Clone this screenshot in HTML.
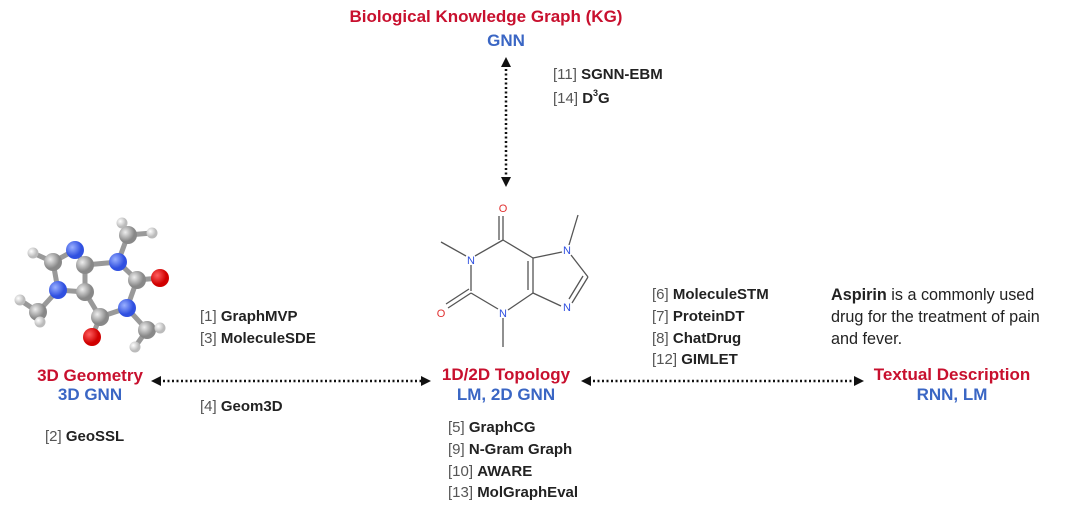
<!DOCTYPE html>
<html><head><meta charset="utf-8"><style>
html,body{margin:0;padding:0;background:#fff;}
svg{display:block;font-family:"Liberation Sans",Arial,sans-serif;}
.t{font-weight:bold;font-size:17px;fill:#c8102e;}
.b{font-weight:bold;font-size:17px;fill:#3a66c4;}
.l{font-size:15px;fill:#222;}
.l tspan.n{fill:#555;font-weight:normal;}
.l tspan.k{font-weight:bold;}
.a{font-size:16.2px;fill:#222;}
</style></head><body>
<svg width="1080" height="509" viewBox="0 0 1080 509" xmlns="http://www.w3.org/2000/svg">
<defs>
<marker id="ah" markerWidth="10" markerHeight="10" refX="7" refY="5" orient="auto-start-reverse" markerUnits="userSpaceOnUse"><path d="M0,0 L10,5 L0,10 Z" fill="#111"/></marker>
<radialGradient id="gC" cx="35%" cy="35%"><stop offset="0" stop-color="#eee"/><stop offset="1" stop-color="#888"/></radialGradient>
<radialGradient id="gN" cx="35%" cy="35%"><stop offset="0" stop-color="#9ab0ff"/><stop offset="1" stop-color="#3050e0"/></radialGradient>
<radialGradient id="gO" cx="35%" cy="35%"><stop offset="0" stop-color="#ff6060"/><stop offset="1" stop-color="#d00000"/></radialGradient>
<radialGradient id="gH" cx="35%" cy="35%"><stop offset="0" stop-color="#fff"/><stop offset="1" stop-color="#bbb"/></radialGradient>
</defs>

<text class="t" x="486" y="22" text-anchor="middle">Biological Knowledge Graph (KG)</text>
<text class="b" x="506" y="46" text-anchor="middle">GNN</text>
<line x1="506" y1="60" x2="506" y2="184" stroke="#111" stroke-width="2.5" stroke-dasharray="2 2.5" marker-start="url(#ah)" marker-end="url(#ah)"/>
<text class="l" x="553" y="79"><tspan class="n">[11] </tspan><tspan class="k">SGNN-EBM</tspan></text>
<text class="l" x="553" y="103"><tspan class="n">[14] </tspan><tspan class="k">D</tspan><tspan class="k" font-size="9" dy="-7">3</tspan><tspan class="k" dy="7">G</tspan></text>

<g stroke="#555" stroke-width="1.3" fill="none">
<line x1="503" y1="216" x2="503" y2="240"/><line x1="499" y1="216" x2="499" y2="240"/>
<line x1="503" y1="240" x2="475" y2="256"/>
<line x1="466" y1="256" x2="441" y2="242"/>
<line x1="471" y1="265" x2="471" y2="291"/>
<line x1="471" y1="293" x2="448" y2="308"/><line x1="469" y1="289" x2="446" y2="304"/>
<line x1="471" y1="293" x2="498" y2="309"/>
<line x1="503" y1="318" x2="503" y2="347"/>
<line x1="508" y1="310" x2="533" y2="293"/>
<line x1="533" y1="293" x2="533" y2="258"/><line x1="528" y1="290" x2="528" y2="261"/>
<line x1="533" y1="258" x2="503" y2="240"/>
<line x1="533" y1="258" x2="562" y2="252"/>
<line x1="569" y1="245" x2="578" y2="215"/>
<line x1="571" y1="255" x2="588" y2="277"/>
<line x1="588" y1="277" x2="572" y2="303"/><line x1="583" y1="276" x2="569" y2="299"/>
<line x1="561" y1="306" x2="533" y2="293"/>
</g>
<g font-size="11" text-anchor="middle">
<text x="503" y="212" fill="#e03030">O</text>
<text x="441" y="317" fill="#e03030">O</text>
<text x="471" y="264" fill="#3050e0">N</text>
<text x="503" y="317" fill="#3050e0">N</text>
<text x="567" y="254" fill="#3050e0">N</text>
<text x="567" y="311" fill="#3050e0">N</text>
</g>

<g stroke="#999" stroke-width="5">
<line x1="75" y1="250" x2="53" y2="262"/><line x1="53" y1="262" x2="33" y2="253"/>
<line x1="53" y1="262" x2="58" y2="290"/><line x1="75" y1="250" x2="85" y2="265"/>
<line x1="85" y1="265" x2="85" y2="292"/><line x1="58" y1="290" x2="85" y2="292"/>
<line x1="85" y1="265" x2="118" y2="262"/><line x1="118" y1="262" x2="128" y2="235"/>
<line x1="128" y1="235" x2="122" y2="223"/><line x1="128" y1="235" x2="152" y2="233"/>
<line x1="118" y1="262" x2="137" y2="280"/><line x1="137" y1="280" x2="160" y2="278"/>
<line x1="137" y1="280" x2="127" y2="308"/><line x1="127" y1="308" x2="100" y2="317"/>
<line x1="100" y1="317" x2="85" y2="292"/><line x1="100" y1="317" x2="92" y2="337"/>
<line x1="127" y1="308" x2="147" y2="330"/><line x1="147" y1="330" x2="160" y2="328"/>
<line x1="147" y1="330" x2="135" y2="347"/><line x1="58" y1="290" x2="38" y2="312"/>
<line x1="38" y1="312" x2="20" y2="300"/><line x1="38" y1="312" x2="40" y2="322"/>
</g>
<g>
<circle cx="122" cy="223" r="5.5" fill="url(#gH)"/><circle cx="152" cy="233" r="5.5" fill="url(#gH)"/>
<circle cx="33" cy="253" r="5.5" fill="url(#gH)"/><circle cx="20" cy="300" r="5.5" fill="url(#gH)"/>
<circle cx="128" cy="235" r="9" fill="url(#gC)"/>
<circle cx="75" cy="250" r="9" fill="url(#gN)"/><circle cx="53" cy="262" r="9" fill="url(#gC)"/>
<circle cx="85" cy="265" r="9" fill="url(#gC)"/><circle cx="118" cy="262" r="9" fill="url(#gN)"/>
<circle cx="58" cy="290" r="9" fill="url(#gN)"/><circle cx="85" cy="292" r="9" fill="url(#gC)"/>
<circle cx="137" cy="280" r="9" fill="url(#gC)"/><circle cx="160" cy="278" r="9" fill="url(#gO)"/>
<circle cx="38" cy="312" r="9" fill="url(#gC)"/><circle cx="40" cy="322" r="5.5" fill="url(#gH)"/>
<circle cx="127" cy="308" r="9" fill="url(#gN)"/><circle cx="100" cy="317" r="9" fill="url(#gC)"/>
<circle cx="147" cy="330" r="9" fill="url(#gC)"/><circle cx="160" cy="328" r="5.5" fill="url(#gH)"/>
<circle cx="92" cy="337" r="9" fill="url(#gO)"/><circle cx="135" cy="347" r="5.5" fill="url(#gH)"/>
</g>

<text class="l" x="200" y="321"><tspan class="n">[1] </tspan><tspan class="k">GraphMVP</tspan></text>
<text class="l" x="200" y="343"><tspan class="n">[3] </tspan><tspan class="k">MoleculeSDE</tspan></text>
<text class="t" x="90" y="381" text-anchor="middle">3D Geometry</text>
<text class="b" x="90" y="400" text-anchor="middle">3D GNN</text>
<text class="l" x="200" y="411"><tspan class="n">[4] </tspan><tspan class="k">Geom3D</tspan></text>
<text class="l" x="45" y="441"><tspan class="n">[2] </tspan><tspan class="k">GeoSSL</tspan></text>
<line x1="154" y1="381" x2="428" y2="381" stroke="#111" stroke-width="2.5" stroke-dasharray="2 2.5" marker-start="url(#ah)" marker-end="url(#ah)"/>

<text class="t" x="506" y="380" text-anchor="middle">1D/2D Topology</text>
<text class="b" x="506" y="400" text-anchor="middle">LM, 2D GNN</text>
<text class="l" x="448" y="432"><tspan class="n">[5] </tspan><tspan class="k">GraphCG</tspan></text>
<text class="l" x="448" y="454"><tspan class="n">[9] </tspan><tspan class="k">N-Gram Graph</tspan></text>
<text class="l" x="448" y="476"><tspan class="n">[10] </tspan><tspan class="k">AWARE</tspan></text>
<text class="l" x="448" y="497"><tspan class="n">[13] </tspan><tspan class="k">MolGraphEval</tspan></text>

<line x1="584" y1="381" x2="861" y2="381" stroke="#111" stroke-width="2.5" stroke-dasharray="2 2.5" marker-start="url(#ah)" marker-end="url(#ah)"/>
<text class="l" x="652" y="299"><tspan class="n">[6] </tspan><tspan class="k">MoleculeSTM</tspan></text>
<text class="l" x="652" y="321"><tspan class="n">[7] </tspan><tspan class="k">ProteinDT</tspan></text>
<text class="l" x="652" y="343"><tspan class="n">[8] </tspan><tspan class="k">ChatDrug</tspan></text>
<text class="l" x="652" y="364"><tspan class="n">[12] </tspan><tspan class="k">GIMLET</tspan></text>
<text class="a" x="831" y="300"><tspan font-weight="bold">Aspirin</tspan> is a commonly used</text>
<text class="a" x="831" y="322">drug for the treatment of pain</text>
<text class="a" x="831" y="344">and fever.</text>
<text class="t" x="952" y="380" text-anchor="middle">Textual Description</text>
<text class="b" x="952" y="400" text-anchor="middle">RNN, LM</text>
</svg>
</body></html>
